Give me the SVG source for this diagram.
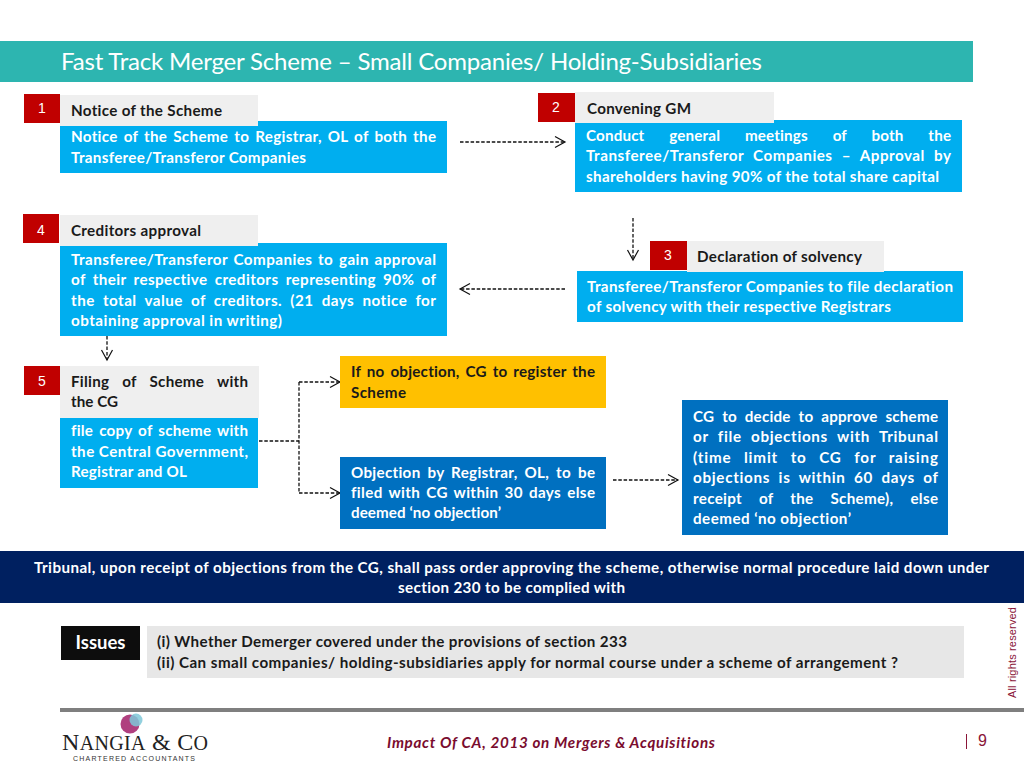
<svg xmlns="http://www.w3.org/2000/svg" width="1024" height="768" viewBox="0 0 1024 768">
<style>
text{font-family:Lato,"Open Sans","Liberation Sans",sans-serif;font-variant-ligatures:none}
.b{font-weight:700;font-size:15.200px}
.w{fill:#fff}
.k{fill:#1a1a1a}
.red{fill:#c00000}
.gray{fill:#efefef}
.blue{fill:#00aeef}
.num{font-family:"Liberation Sans",sans-serif;font-size:14px;fill:#fff;text-anchor:middle}
.c{fill:none;stroke:#111;stroke-width:1.3;stroke-dasharray:3.500 1.800}
</style>
<defs>
<marker id="a" markerUnits="userSpaceOnUse" markerWidth="14" markerHeight="14" refX="12" refY="7" orient="auto"><path d="M2 1.500L12 7L2 12.500" fill="none" stroke="#111" stroke-width="1.200"/></marker>
</defs>
<rect width="1024" height="768" fill="#fff"/>
<g id="title"><rect x="0" y="41" width="973" height="41" fill="#2db5b0"/>
<text x="61" y="70" class="w" font-size="24" textLength="701">Fast Track Merger Scheme – Small Companies/ Holding-Subsidiaries</text></g>
<g id="connectors">
<path class="c" d="M460 142H565" marker-end="url(#a)"/>
<path class="c" d="M633 218V260" marker-end="url(#a)"/>
<path class="c" d="M565 289H460" marker-end="url(#a)"/>
<path class="c" d="M107 336V360" marker-end="url(#a)"/>
<path class="c" d="M259 441H299"/>
<path class="c" d="M299 382V493"/>
<path class="c" d="M299 382H340" marker-end="url(#a)"/>
<path class="c" d="M299 493H340" marker-end="url(#a)"/>
<path class="c" d="M613 480H678" marker-end="url(#a)"/>
</g>
<g id="node1">
<rect class="blue" x="60" y="121" width="387" height="52"/>
<rect class="gray" x="60" y="95" width="198" height="31"/>
<rect class="red" x="24" y="94" width="36" height="29"/>
<text class="num" x="42" y="113">1</text>
<text class="b k" x="71" y="116" textLength="151">Notice of the Scheme</text>
<text class="b w" x="71" y="142" word-spacing="2" textLength="365">Notice of the Scheme to Registrar, OL of both the</text>
<text class="b w" x="71" y="163" textLength="235">Transferee/Transferor Companies</text>
</g>
<g id="node2">
<rect class="blue" x="575" y="120" width="387" height="72"/>
<rect class="gray" x="575" y="92" width="199" height="31"/>
<rect class="red" x="538" y="93" width="37" height="29"/>
<text class="num" x="556" y="112">2</text>
<text class="b k" x="587" y="114" textLength="104">Convening GM</text>
<text class="b w" x="586" y="141" word-spacing="21" textLength="365">Conduct general meetings of both the</text>
<text class="b w" x="586" y="161" word-spacing="5" textLength="365">Transferee/Transferor Companies – Approval by</text>
<text class="b w" x="586" y="182" textLength="353">shareholders having 90% of the total share capital</text>
</g>
<g id="node3">
<rect class="blue" x="577" y="271" width="386" height="51"/>
<rect class="gray" x="687" y="241" width="197" height="31"/>
<rect class="red" x="650" y="241" width="37" height="29"/>
<text class="num" x="668" y="260">3</text>
<text class="b k" x="697" y="262" textLength="165">Declaration of solvency</text>
<text class="b w" x="587" y="292" textLength="366">Transferee/Transferor Companies to file declaration</text>
<text class="b w" x="587" y="312" textLength="304">of solvency with their respective Registrars</text>
</g>
<g id="node4">
<rect class="blue" x="60" y="243" width="387" height="93"/>
<rect class="gray" x="60" y="215" width="198" height="31"/>
<rect class="red" x="23" y="214" width="36" height="29"/>
<text class="num" x="41" y="235">4</text>
<text class="b k" x="71" y="236" textLength="130">Creditors approval</text>
<text class="b w" x="71" y="265" word-spacing="1.500" textLength="365">Transferee/Transferor Companies to gain approval</text>
<text class="b w" x="71" y="285" word-spacing="3" textLength="365">of their respective creditors representing 90% of</text>
<text class="b w" x="71" y="306" word-spacing="4" textLength="365">the total value of creditors. (21 days notice for</text>
<text class="b w" x="71" y="326" textLength="211">obtaining approval in writing)</text>
</g>
<g id="node5">
<rect class="blue" x="60" y="394" width="198" height="94"/>
<rect class="gray" x="60" y="366" width="199" height="52"/>
<rect class="red" x="24" y="366" width="36" height="29"/>
<text class="num" x="42" y="386">5</text>
<text class="b k" x="71" y="387" word-spacing="9" textLength="177">Filing of Scheme with</text>
<text class="b k" x="71" y="407" textLength="47">the CG</text>
<text class="b w" x="71" y="436" word-spacing="2" textLength="177">file copy of scheme with</text>
<text class="b w" x="71" y="457" textLength="177">the Central Government,</text>
<text class="b w" x="71" y="477" textLength="116">Registrar and OL</text>
</g>
<g id="node6">
<rect x="340" y="356" width="266" height="52" fill="#ffc000"/>
<text class="b k" x="351" y="377" word-spacing="2" textLength="244">If no objection, CG to register the</text>
<text class="b k" x="351" y="398" textLength="55">Scheme</text>
</g>
<g id="node7">
<rect x="340" y="457" width="266" height="72" fill="#0070c0"/>
<text class="b w" x="351" y="478" word-spacing="3" textLength="244">Objection by Registrar, OL, to be</text>
<text class="b w" x="351" y="498" word-spacing="2" textLength="244">filed with CG within 30 days else</text>
<text class="b w" x="351" y="518" textLength="150">deemed ‘no objection’</text>
</g>
<g id="node8">
<rect x="682" y="400" width="266" height="135" fill="#0070c0"/>
<text class="b w" x="693" y="422" word-spacing="4" textLength="245">CG to decide to approve scheme</text>
<text class="b w" x="693" y="442" word-spacing="5" textLength="245">or file objections with Tribunal</text>
<text class="b w" x="693" y="463" word-spacing="8" textLength="245">(time limit to CG for raising</text>
<text class="b w" x="693" y="483" word-spacing="4" textLength="245">objections is within 60 days of</text>
<text class="b w" x="693" y="504" word-spacing="13" textLength="245">receipt of the Scheme), else</text>
<text class="b w" x="693" y="524" textLength="158">deemed ‘no objection’</text>
</g>
<g id="tribunal">
<rect x="0" y="551" width="1024" height="52" fill="#002060"/>
<text class="b w" x="34" y="573" textLength="955">Tribunal, upon receipt of objections from the CG, shall pass order approving the scheme, otherwise normal procedure laid down under</text>
<text class="b w" x="398" y="593" textLength="227">section 230 to be complied with</text>
</g>
<g id="issues">
<rect x="61" y="626" width="79" height="34" fill="#0d0d0d"/>
<text x="100.500" y="649" class="w" font-weight="700" font-size="18.500" text-anchor="middle">Issues</text>
<rect x="147" y="626" width="817" height="52" fill="#e7e7e7"/>
<text class="b k" x="157" y="647" textLength="470">(i) Whether Demerger covered under the provisions of section 233</text>
<text class="b k" x="157" y="668" textLength="741">(ii) Can small companies/ holding-subsidiaries apply for normal course under a scheme of arrangement ?</text>
</g>
<g id="footer">
<rect x="60" y="708" width="964" height="4" fill="#7f7f7f"/>
<text x="387" y="748" font-size="15.200" font-weight="700" font-style="italic" fill="#7a0c2e" textLength="328">Impact Of CA, 2013 on Mergers &amp; Acquisitions</text>
<rect x="966" y="734" width="1" height="15" fill="#8a1538"/>
<text x="978" y="746" font-size="16" fill="#8a1538" style="font-family:'Liberation Sans',sans-serif">9</text>
<text transform="translate(1016 698) rotate(-90)" font-size="11" fill="#8a1538" style="font-family:'Liberation Sans',sans-serif" textLength="91">All rights reserved</text>
</g>
<g id="logo">
<circle cx="130" cy="724" r="9.500" fill="#b0407f"/>
<circle cx="136" cy="720" r="6.500" fill="#7fc8d8" fill-opacity=".85"/>
<text x="62" y="750" font-size="24" fill="#222" style="font-family:'Liberation Serif',serif" textLength="146">N<tspan font-size="20">ANGIA</tspan> &amp; C<tspan font-size="20">O</tspan></text>
<text x="73" y="761" font-size="7" fill="#333" style="font-family:'Liberation Sans',sans-serif" textLength="122">CHARTERED ACCOUNTANTS</text>
</g>
</svg>
